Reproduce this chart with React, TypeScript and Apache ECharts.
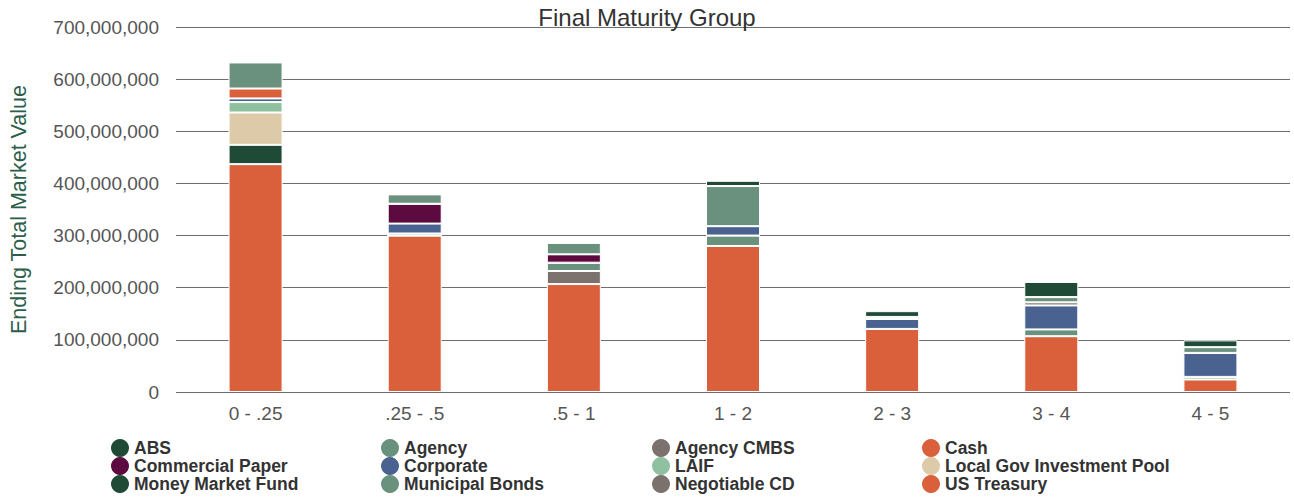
import React, { useEffect, useRef } from "react";
import * as echarts from "echarts";

const categories = ["0 - .25", ".25 - .5", ".5 - 1", "1 - 2", "2 - 3", "3 - 4", "4 - 5"];

// values in millions
const abs = [0, 0, 0, 10, 11, 29, 13];
const agency = [50, 18, 22, 77, 0, 10, 11];
const agencyCmbs = [0, 0, 0, 0, 4, 6, 0];
const cash = [19, 0, 0, 0, 0, 0, 0];
const commercialPaper = [0, 38, 16, 0, 0, 0, 0];
const corporate = [7, 19, 0, 18, 19, 46, 46];
const laif = [20, 4, 0, 0, 0, 0, 5];
const lgip = [62, 0, 0, 0, 0, 0, 0];
const moneyMarket = [37, 0, 0, 0, 0, 0, 0];
const municipal = [0, 0, 16, 20, 0, 13, 0];
const negotiableCd = [0, 0, 25, 0, 0, 0, 0];
const usTreasury = [437, 300, 207, 280, 121, 107, 24];

const yTicks = [0, 100, 200, 300, 400, 500, 600, 700];

const seriesDefs = [
  { name: "ABS", data: abs, color: "#1f4a36" },
  { name: "Agency", data: agency, color: "#6a917e" },
  { name: "Agency CMBS", data: agencyCmbs, color: "#7b716d" },
  { name: "Cash", data: cash, color: "#d9603a" },
  { name: "Commercial Paper", data: commercialPaper, color: "#5c0a3f" },
  { name: "Corporate", data: corporate, color: "#4a6290" },
  { name: "LAIF", data: laif, color: "#8fc0a0" },
  { name: "Local Gov Investment Pool", data: lgip, color: "#dccaa8" },
  { name: "Money Market Fund", data: moneyMarket, color: "#1f4a36" },
  { name: "Municipal Bonds", data: municipal, color: "#6a917e" },
  { name: "Negotiable CD", data: negotiableCd, color: "#7b716d" },
  { name: "US Treasury", data: usTreasury, color: "#d9603a" },
];

// stack order bottom -> top is reverse of legend order
const stackOrder = [...seriesDefs].reverse();

const legendCols = [
  ["ABS", "Commercial Paper", "Money Market Fund"],
  ["Agency", "Corporate", "Municipal Bonds"],
  ["Agency CMBS", "LAIF", "Negotiable CD"],
  ["Cash", "Local Gov Investment Pool", "US Treasury"],
];
const legendLefts = [111, 381, 652, 922];

export default function App() {
  const ref = useRef<HTMLDivElement>(null);
  useEffect(() => {
    document.body.style.margin = "0";
    if (!ref.current) return;
    const chart = echarts.init(ref.current, null, { renderer: "svg" });
    const font = "'Liberation Sans', Arial, Helvetica, sans-serif";
    chart.setOption({
      animation: false,
      textStyle: { fontFamily: font },
      title: {
        text: "Final Maturity Group",
        left: "center",
        top: 0,
        textStyle: { fontFamily: font, fontSize: 24, fontWeight: "normal", color: "#333" },
      },
      legend: legendCols.map((col, i) => ({
        orient: "vertical",
        left: legendLefts[i],
        top: 439,
        height: 80,
        padding: 0,
        itemWidth: 18,
        itemHeight: 18,
        itemGap: 0,
        icon: "circle",
        data: col,
        selectedMode: false,
        itemStyle: { borderWidth: 0 },
        textStyle: { fontFamily: font, fontSize: 17.5, fontWeight: "bold", color: "#333", lineHeight: 16, padding: 0 },
      })),
      grid: { left: 175, right: 4, top: 27, bottom: 106 },
      xAxis: {
        type: "category",
        data: categories,
        axisLine: { show: false },
        axisTick: { show: false },
        axisLabel: { fontFamily: font, fontSize: 19, color: "#555", margin: 12 },
      },
      yAxis: {
        type: "value",
        min: 0,
        max: yTicks[yTicks.length - 1] * 1e6,
        interval: 100e6,
        name: "Ending Total Market Value",
        nameLocation: "middle",
        nameGap: 146,
        nameTextStyle: { fontFamily: font, fontSize: 21.5, color: "#2d5e4a" },
        axisLine: { show: false },
        axisTick: { show: false },
        splitLine: { lineStyle: { color: "#6e6e6e", width: 1 } },
        axisLabel: {
          fontFamily: font,
          fontSize: 19,
          color: "#555",
          margin: 17,
          formatter: (v: number) => v.toLocaleString("en-US"),
        },
      },
      series: stackOrder.map((s) => ({
        name: s.name,
        type: "bar",
        stack: "total",
        barWidth: 54,
        data: s.data.map((v) => v * 1e6),
        itemStyle: { color: s.color, borderColor: "#fff", borderWidth: 1 },
      })),
    });
    return () => chart.dispose();
  }, []);
  return <div ref={ref} style={{ width: 1294, height: 498 }} />;
}
